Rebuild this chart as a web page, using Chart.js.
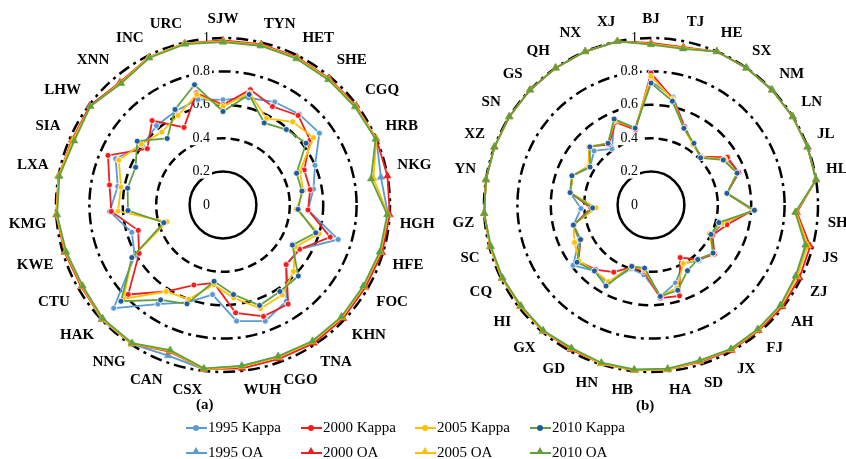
<!DOCTYPE html>
<html>
<head>
<meta charset="utf-8">
<script src="https://cdn.jsdelivr.net/npm/chart.js@4.4.0/dist/chart.umd.min.js"></script>
<style>
  html, body { margin: 0; padding: 0; background: #fff; }
  #wrap { position: relative; width: 846px; height: 459px; overflow: hidden; font-family: "Liberation Serif", serif; color: #000; }
  #wrap canvas { position: absolute; left: 0; top: 0; }
  .cap { position: absolute; font-weight: bold; font-size: 15px; }
  .item { position: absolute; font-size: 15px; line-height: 16px; white-space: nowrap; }
  .ico { display: inline-block; position: relative; width: 21px; height: 2px; vertical-align: middle; margin-right: 1px; top: -1px; }
  .ico .dot { position: absolute; left: 7px; top: -2px; width: 6px; height: 6px; border-radius: 50%; }
  .ico .tri { position: absolute; left: 6px; top: -5px; width: 0; height: 0; border-left: 4px solid transparent; border-right: 4px solid transparent; border-bottom: 7px solid; }
</style>
</head>
<body>
<div id="wrap">
  <canvas id="chartA" width="880" height="459"></canvas>
  <canvas id="chartB" width="880" height="459"></canvas>
  <div class="cap" style="left:196px; top:396px;">(a)</div>
  <div class="cap" style="left:636px; top:397px;">(b)</div>
  <div id="legend"></div>
</div>
<script>
// categories
const airports = ['SJW','TYN','HET','SHE','CGQ','HRB','NKG','HGH','HFE','FOC','KHN','TNA','CGO','WUH','CSX','CAN','NNG','HAK','CTU','KWE','KMG','LXA','SIA','LHW','XNN','INC','URC'];
const provinces = ['BJ','TJ','HE','SX','NM','LN','JL','HL','SH','JS','ZJ','AH','FJ','JX','SD','HA','HB','HN','GD','GX','HI','CQ','SC','GZ','YN','XZ','SN','GS','QH','NX','XJ'];
const years = ['1995', '2000', '2005', '2010'];

// (a) airports
const kappaA1995 = [0.63,0.66,0.69,0.71,0.72,0.60,0.55,0.51,0.72,0.53,0.52,0.69,0.74,0.70,0.54,0.62,0.71,0.90,0.61,0.57,0.68,0.64,0.70,0.60,0.62,0.63,0.65];
const kappaA2000 = [0.60,0.71,0.66,0.70,0.65,0.53,0.53,0.51,0.67,0.53,0.52,0.71,0.71,0.65,0.47,0.51,0.62,0.78,0.58,0.53,0.67,0.69,0.75,0.565,0.66,0.52,0.69];
const kappaA2005 = [0.59,0.69,0.58,0.65,0.675,0.50,0.49,0.44,0.60,0.50,0.58,0.645,0.66,0.56,0.48,0.60,0.62,0.82,0.63,0.35,0.63,0.62,0.68,0.61,0.57,0.60,0.68];
const kappaA2010 = [0.56,0.68,0.55,0.59,0.62,0.48,0.48,0.45,0.58,0.48,0.62,0.62,0.64,0.54,0.46,0.63,0.68,0.84,0.63,0.37,0.57,0.58,0.57,0.64,0.52,0.64,0.74];
const oaA1995 = [0.98,0.98,0.985,0.985,0.99,1.0,0.96,0.99,0.985,0.975,0.98,0.98,0.965,0.97,0.99,0.96,0.995,1.0,0.975,0.985,1.0,1.0,0.975,0.995,0.955,0.99,0.995];
const oaA2000 = [0.985,0.99,0.99,0.99,0.995,1.0,1.0,1.0,0.995,0.985,0.99,0.99,0.98,0.985,0.99,0.935,0.995,0.995,0.98,0.99,1.0,1.0,0.985,0.995,0.96,0.99,0.995];
const oaA2005 = [0.98,0.985,0.985,0.985,0.99,1.0,0.915,0.99,0.985,0.975,0.98,0.98,0.97,0.975,0.99,0.93,0.995,0.995,0.975,0.985,1.0,1.0,0.98,0.99,0.955,0.99,0.995];
const oaA2010 = [0.975,0.98,0.98,0.98,0.985,0.995,0.90,0.985,0.98,0.97,0.975,0.975,0.965,0.97,0.985,0.925,0.99,0.99,0.97,0.98,0.995,0.995,0.97,0.99,0.95,0.985,0.99];

// (b) provinces
const kappaB1995 = [0.74,0.66,0.51,0.44,0.42,0.53,0.56,0.46,0.62,0.44,0.41,0.47,0.44,0.40,0.49,0.55,0.42,0.40,0.535,0.52,0.59,0.48,0.48,0.42,0.49,0.50,0.43,0.47,0.41,0.555,0.47];
const kappaB2000 = [0.79,0.65,0.51,0.44,0.42,0.54,0.56,0.46,0.61,0.47,0.41,0.48,0.43,0.36,0.57,0.56,0.40,0.39,0.46,0.51,0.55,0.47,0.48,0.36,0.49,0.50,0.44,0.51,0.44,0.54,0.46];
const kappaB2005 = [0.77,0.645,0.50,0.44,0.415,0.52,0.55,0.46,0.615,0.44,0.39,0.47,0.43,0.40,0.52,0.55,0.39,0.385,0.525,0.52,0.545,0.51,0.48,0.33,0.49,0.50,0.44,0.51,0.45,0.55,0.47];
const kappaB2010 = [0.73,0.635,0.50,0.45,0.41,0.51,0.55,0.46,0.62,0.42,0.40,0.47,0.43,0.45,0.535,0.55,0.38,0.385,0.555,0.52,0.56,0.47,0.48,0.35,0.49,0.505,0.43,0.505,0.45,0.56,0.47];
const oaB1995 = [0.965,0.96,1.0,1.0,1.0,1.0,1.0,1.0,0.87,0.96,0.97,0.985,0.985,0.99,0.98,0.99,0.995,0.995,0.985,0.995,0.99,0.995,0.995,1.0,1.0,1.0,1.0,1.0,1.0,1.0,1.0];
const oaB2000 = [0.97,0.965,1.0,1.0,1.0,1.0,1.0,1.0,0.875,0.985,0.99,0.995,0.99,0.995,0.985,0.99,0.995,0.995,0.99,0.995,0.99,0.995,0.995,1.0,1.0,1.0,1.0,1.0,1.0,1.0,1.0];
const oaB2005 = [0.965,0.96,1.0,1.0,1.0,1.0,1.0,1.0,0.87,0.97,0.975,0.985,0.985,0.99,0.98,0.99,0.995,0.995,0.985,0.995,0.99,0.995,0.995,1.0,1.0,1.0,1.0,1.0,1.0,1.0,1.0];
const oaB2010 = [0.96,0.955,1.0,1.0,1.0,1.0,1.0,1.0,0.865,0.955,0.965,0.98,0.98,0.985,0.975,0.985,0.99,0.99,0.98,0.99,0.985,0.99,0.99,1.0,1.0,1.0,1.0,1.0,1.0,1.0,1.0];

const lineColors = ['#5B9BD5', '#F01E1E', '#FFC000', '#62A03F'];
const kappaDot = ['#5B9BD5', '#F01E1E', '#FFC000', '#1F5C99'];

// ring styles: 0.2 solid, 0.4/0.6 dashed, 0.8/1 dash-dot
function ringDash(v) {
  const k = Math.round(v * 10);
  if (k === 2) return [];
  if (k === 4) return [9, 5];
  if (k === 6) return [10, 6];
  return [12, 5, 3, 5];
}

// tick labels sit just left of the vertical axis, like the original
const tickText = {
  id: 'tickText',
  beforeDatasetsDraw(chart) {
    const s = chart.scales.r;
    const ctx = chart.ctx;
    ctx.save();
    ctx.font = '14px "Liberation Serif"';
    ctx.textAlign = 'right';
    ctx.textBaseline = 'middle';
    s.ticks.forEach(t => {
      const label = String(Number(t.value.toFixed(1)));
      const y = s.yCenter - s.getDistanceFromCenterForValue(t.value);
      const x = s.xCenter - 13;
      const w = ctx.measureText(label).width;
      if (t.value > 0) {
        ctx.fillStyle = '#fff';
        ctx.fillRect(x - w - 2, y - 7, w + 4, 14);
      }
      ctx.fillStyle = '#000';
      ctx.fillText(label, x, y);
    });
    ctx.restore();
  }
};

function makeRadar(id, labels, kappa, oa, cx, cy, radius) {
  const datasets = [];
  years.forEach((y, i) => {
    datasets.push({
      label: y + ' OA', data: oa[i], order: 3 - i,
      borderColor: lineColors[i], backgroundColor: lineColors[i],
      pointStyle: 'triangle', pointRadius: 4.2, pointBorderWidth: 0.5,
      pointBorderColor: lineColors[i], pointBackgroundColor: lineColors[i],
      borderWidth: 1.8, fill: false
    });
    datasets.push({
      label: y + ' Kappa', data: kappa[i], order: 7 - i,
      borderColor: lineColors[i], backgroundColor: kappaDot[i],
      pointStyle: 'circle', pointRadius: 3, pointBorderWidth: 0.8,
      pointBorderColor: '#fff', pointBackgroundColor: kappaDot[i],
      borderWidth: 1.8, fill: false
    });
  });

  return new Chart(document.getElementById(id), {
    type: 'radar',
    data: { labels: labels, datasets: datasets },
    options: {
      responsive: false,
      animation: false,
      events: [],
      elements: { line: { tension: 0 } },
      plugins: { legend: { display: false }, tooltip: { enabled: false } },
      scales: {
        r: {
          min: 0,
          max: 1,
          beforeFit: (s) => { s.xCenter = cx; s.yCenter = cy; s.drawingArea = radius; },
          angleLines: { display: false },
          grid: { circular: true, color: '#000', lineWidth: 2.5 },
          border: { dash: (ctx) => ringDash(ctx.tick ? ctx.tick.value : 1) },
          ticks: { stepSize: 0.2, display: false },
          pointLabels: {
            color: '#000',
            padding: 10,
            font: { family: 'Liberation Serif', size: 15, weight: 'bold' }
          }
        }
      }
    },
    plugins: [tickText]
  });
}

makeRadar('chartA', airports,
  [kappaA1995, kappaA2000, kappaA2005, kappaA2010],
  [oaA1995, oaA2000, oaA2005, oaA2010], 223, 205, 167);
makeRadar('chartB', provinces,
  [kappaB1995, kappaB2000, kappaB2005, kappaB2010],
  [oaB1995, oaB2000, oaB2005, oaB2010], 651, 205, 167);

// shared legend below both charts
const legend = document.getElementById('legend');
const colX = [186, 301, 415, 530];
years.forEach((y, i) => {
  [['Kappa', 419], ['OA', 444]].forEach(([kind, top]) => {
    const d = document.createElement('div');
    d.className = 'item';
    d.style.left = colX[i] + 'px';
    d.style.top = top + 'px';
    const ico = document.createElement('span');
    ico.className = 'ico';
    ico.style.background = lineColors[i];
    const m = document.createElement('i');
    if (kind === 'Kappa') {
      m.className = 'dot';
      m.style.background = kappaDot[i];
    } else {
      m.className = 'tri';
      m.style.borderBottomColor = lineColors[i];
    }
    ico.appendChild(m);
    d.appendChild(ico);
    d.appendChild(document.createTextNode(y + ' ' + kind));
    legend.appendChild(d);
  });
});
</script>
</body>
</html>
